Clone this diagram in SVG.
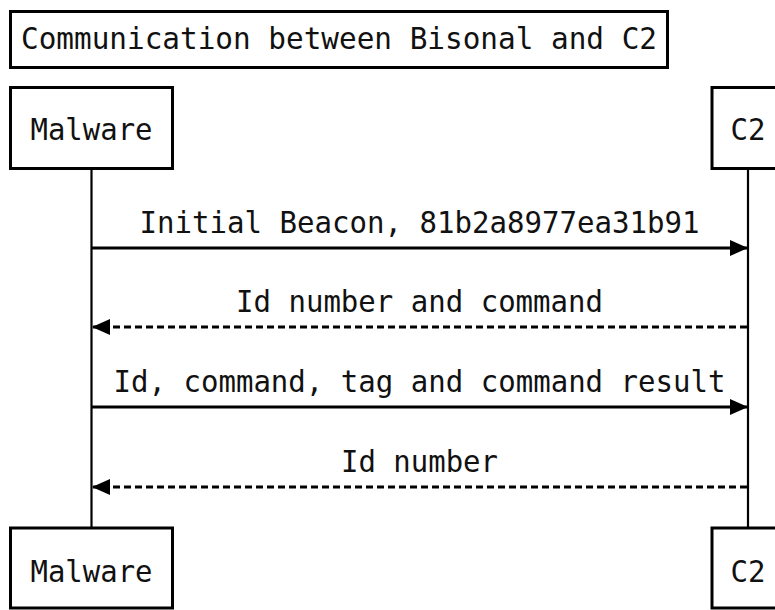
<svg xmlns="http://www.w3.org/2000/svg" width="775" height="610" viewBox="0 0 775 610">
<style>
.box{fill:#fff;stroke:#000;stroke-width:3}
.life{stroke:#000;stroke-width:2.2;fill:none}
.msg{stroke:#000;stroke-width:3;fill:none}
.dash{stroke-dasharray:7 4}
text{font-family:"DejaVu Sans Mono","Liberation Mono",monospace;font-size:30px;fill:#111}
.c{text-anchor:middle}
</style>
<defs>
<marker id="ah" viewBox="0 0 18 16" refX="17" refY="8" markerWidth="18" markerHeight="16" markerUnits="userSpaceOnUse" orient="auto">
<path d="M0,0 L18,8 L0,16 Z" fill="#000"/>
</marker>
</defs>
<g id="title">
<rect class="box" x="10.5" y="11.5" width="657" height="56"/>
<text x="21" y="49" textLength="636" lengthAdjust="spacingAndGlyphs">Communication between Bisonal and C2</text>
</g>
<g id="lifelines">
<line class="life" x1="91.5" y1="168" x2="91.5" y2="528"/>
<line class="life" x1="748" y1="168" x2="748" y2="528"/>
</g>
<g id="malware-top">
<rect class="box" x="10.5" y="87.5" width="162" height="81"/>
<text class="c" x="91.5" y="140" textLength="122" lengthAdjust="spacingAndGlyphs">Malware</text>
</g>
<g id="c2-top">
<rect class="box" x="712" y="87.5" width="72" height="81"/>
<text class="c" x="748" y="140" textLength="35" lengthAdjust="spacingAndGlyphs">C2</text>
</g>
<g id="malware-bottom">
<rect class="box" x="10.5" y="528" width="162" height="80"/>
<text class="c" x="91.5" y="582" textLength="122" lengthAdjust="spacingAndGlyphs">Malware</text>
</g>
<g id="c2-bottom">
<rect class="box" x="712" y="528" width="72" height="80"/>
<text class="c" x="748" y="582" textLength="35" lengthAdjust="spacingAndGlyphs">C2</text>
</g>
<g id="connectors">
<line class="msg" x1="92" y1="248" x2="747" y2="248" marker-end="url(#ah)"/>
<text class="c" x="419.5" y="233" textLength="560" lengthAdjust="spacingAndGlyphs">Initial Beacon, 81b2a8977ea31b91</text>
<line class="msg dash" x1="747" y1="327" x2="93" y2="327" marker-end="url(#ah)"/>
<text class="c" x="419.5" y="312" textLength="367" lengthAdjust="spacingAndGlyphs">Id number and command</text>
<line class="msg" x1="92" y1="407" x2="747" y2="407" marker-end="url(#ah)"/>
<text class="c" x="419.5" y="392" textLength="612" lengthAdjust="spacingAndGlyphs">Id, command, tag and command result</text>
<line class="msg dash" x1="747" y1="487" x2="93" y2="487" marker-end="url(#ah)"/>
<text class="c" x="419.5" y="472" textLength="157" lengthAdjust="spacingAndGlyphs">Id number</text>
</g>
</svg>
